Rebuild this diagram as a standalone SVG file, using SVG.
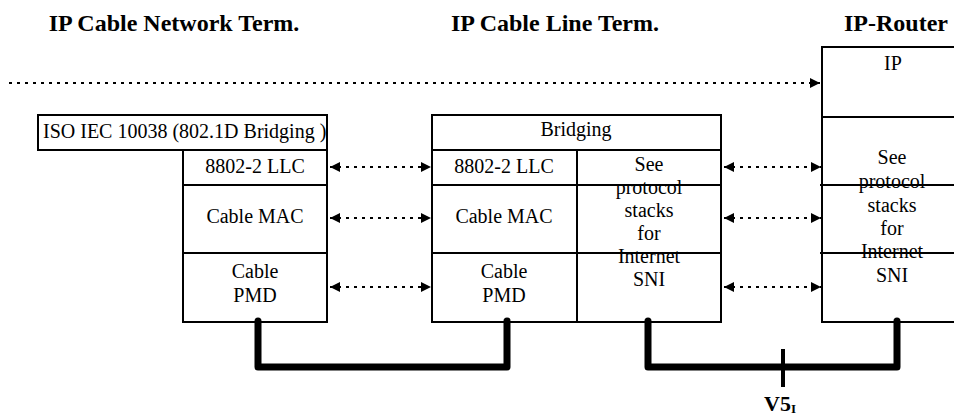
<svg xmlns="http://www.w3.org/2000/svg" width="954" height="416" viewBox="0 0 954 416">
<defs>
<style>
.t{font-family:"Liberation Serif",Tinos,"Times New Roman","DejaVu Serif",serif;font-size:20px;fill:#000;text-anchor:middle}
.h{font-family:"Liberation Serif",Tinos,"Times New Roman","DejaVu Serif",serif;font-size:24px;font-weight:bold;fill:#000;text-anchor:middle}
.box{fill:none;stroke:#000;stroke-width:2}
.dot{fill:none;stroke:#000;stroke-width:2;stroke-dasharray:3 5}
.thick{fill:none;stroke:#000;stroke-width:7;stroke-linecap:round;stroke-linejoin:round}
</style>
<marker id="ah" viewBox="0 0 10 10" refX="10" refY="5" markerWidth="5" markerHeight="5" orient="auto-start-reverse" markerUnits="strokeWidth">
<path d="M0,0 L10,5 L0,10 Z" fill="#000"/>
</marker>
</defs>
<rect width="954" height="416" fill="#fff"/>

<text class="h" x="174" y="31">IP Cable Network Term.</text>
<text class="h" x="555" y="31">IP Cable Line Term.</text>
<text class="h" x="896" y="31">IP-Router</text>

<g id="cnt">
<rect class="box" x="38" y="115" width="289" height="35"/>
<text class="t" x="43" y="138" style="text-anchor:start">ISO IEC 10038 (802.1D Bridging )</text>
<rect class="box" x="183" y="150" width="144" height="172"/>
<line class="box" x1="183" y1="185" x2="327" y2="185"/>
<line class="box" x1="183" y1="253" x2="327" y2="253"/>
<text class="t" x="255" y="173">8802-2 LLC</text>
<text class="t" x="255" y="223">Cable MAC</text>
<text class="t" x="255" y="278">Cable</text>
<text class="t" x="255" y="302">PMD</text>
</g>

<g id="clt">
<rect class="box" x="432" y="115" width="289" height="207"/>
<line class="box" x1="432" y1="150" x2="721" y2="150"/>
<line class="box" x1="432" y1="185" x2="721" y2="185"/>
<line class="box" x1="432" y1="253" x2="721" y2="253"/>
<line class="box" x1="577" y1="150" x2="577" y2="322"/>
<text class="t" x="576" y="136">Bridging</text>
<text class="t" x="504" y="173">8802-2 LLC</text>
<text class="t" x="504" y="223">Cable MAC</text>
<text class="t" x="504" y="278">Cable</text>
<text class="t" x="504" y="302">PMD</text>
<text class="t" x="649" y="171">See</text>
<text class="t" x="649" y="194">protocol</text>
<text class="t" x="649" y="217">stacks</text>
<text class="t" x="649" y="240">for</text>
<text class="t" x="649" y="263">Internet</text>
<text class="t" x="649" y="286">SNI</text>
</g>

<g id="router">
<rect class="box" x="822" y="47" width="150" height="275"/>
<line class="box" x1="822" y1="117" x2="972" y2="117"/>
<line class="box" x1="820" y1="185" x2="972" y2="185"/>
<line class="box" x1="820" y1="253" x2="972" y2="253"/>
<text class="t" x="893" y="70">IP</text>
<text class="t" x="892" y="164">See</text>
<text class="t" x="892" y="188">protocol</text>
<text class="t" x="892" y="212">stacks</text>
<text class="t" x="892" y="235">for</text>
<text class="t" x="892" y="258">Internet</text>
<text class="t" x="892" y="282">SNI</text>
</g>

<g id="connectors">
<line class="dot" x1="9" y1="83" x2="820" y2="83" marker-end="url(#ah)"/>
<line class="dot" x1="330" y1="167" x2="431" y2="167" marker-start="url(#ah)" marker-end="url(#ah)"/>
<line class="dot" x1="330" y1="218" x2="431" y2="218" marker-start="url(#ah)" marker-end="url(#ah)"/>
<line class="dot" x1="330" y1="287" x2="431" y2="287" marker-start="url(#ah)" marker-end="url(#ah)"/>
<line class="dot" x1="724" y1="167" x2="821" y2="167" marker-start="url(#ah)" marker-end="url(#ah)"/>
<line class="dot" x1="724" y1="218" x2="821" y2="218" marker-start="url(#ah)" marker-end="url(#ah)"/>
<line class="dot" x1="724" y1="287" x2="821" y2="287" marker-start="url(#ah)" marker-end="url(#ah)"/>
<path class="thick" d="M258,321 V367 H507 V321"/>
<path class="thick" d="M648,321 V367 H897 V321"/>
<line x1="783" y1="349" x2="783" y2="387" stroke="#000" stroke-width="4"/>
</g>

<text x="764" y="411" font-family="'Liberation Serif', Tinos, 'Times New Roman', 'DejaVu Serif', serif" font-size="22" font-weight="bold">V5<tspan font-size="13" dy="2">I</tspan></text>
</svg>
